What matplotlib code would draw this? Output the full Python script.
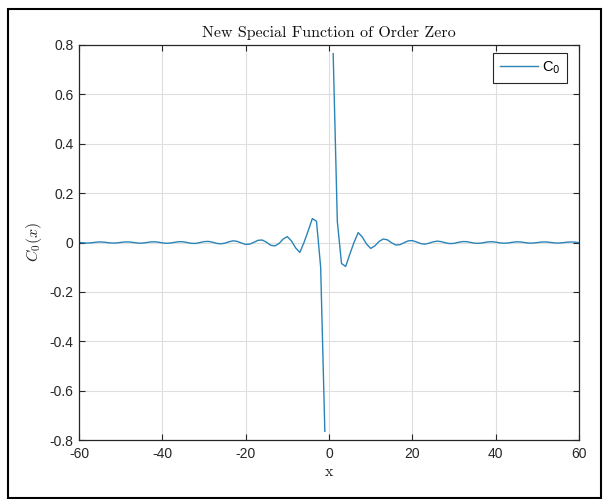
import matplotlib
matplotlib.use("Agg")
import matplotlib.pyplot as plt
from matplotlib.patches import Rectangle

# C0 sampled on integer x from -60 to 60 (undefined at x = 0)
x = list(range(-60, 61))
c0_pos = [
    float("nan"), 0.765, 0.085, -0.085, -0.097, -0.047, 0.0, 0.040, 0.022, -0.006,
    -0.024, -0.014, 0.004, 0.014, 0.011, -0.001, -0.010, -0.009, -0.001, 0.0066,
    0.0077, 0.0022, -0.0044, -0.0068, -0.0029, 0.0027, 0.0055, 0.0033, -0.0015, -0.0045,
    -0.0035, 0.0004, 0.0036, 0.0035, 0.0004, -0.0029, -0.0034, -0.0010, 0.0021, 0.0033,
    0.0015, -0.0015, -0.0030, -0.0019, 0.0008, 0.0028, 0.0022, -0.0003, -0.0024, -0.0023,
    -0.0003, 0.0019, 0.0024, 0.0007, -0.0015, -0.0024, -0.0011, 0.0011, 0.0022, 0.0014,
    -0.0006,
]
c0_neg = [
    0.0006, -0.0014, -0.0022, -0.0011, 0.0011, 0.0024, 0.0015, -0.0007, -0.0024, -0.0019,
    0.0003, 0.0023, 0.0024, 0.0003, -0.0022, -0.0028, -0.0008, 0.0019, 0.0030, 0.0015,
    -0.0015, -0.0033, -0.0021, 0.0010, 0.0034, 0.0029, -0.0004, -0.0035, -0.0036, -0.0004,
    0.0035, 0.0045, 0.0015, -0.0033, -0.0055, -0.0027, 0.0029, 0.0068, 0.0044, -0.0022,
    -0.0077, -0.0066, 0.001, 0.009, 0.010, 0.001, -0.011, -0.014, -0.004, 0.014,
    0.024, 0.006, -0.022, -0.040, 0.0, 0.047, 0.097, 0.086, -0.100, -0.765,
]
c0 = c0_neg + c0_pos

xticks = [-60, -40, -20, 0, 20, 40, 60]
yticks = [-0.8, -0.6, -0.4, -0.2, 0, 0.2, 0.4, 0.6, 0.8]
ytick_labels = ["-0.8", "-0.6", "-0.4", "-0.2", "0", "0.2", "0.4", "0.6", "0.8"]

plt.rcParams["axes.unicode_minus"] = False
plt.rcParams["font.family"] = ["Liberation Sans", "DejaVu Sans"]

fig = plt.figure(figsize=(6.03, 4.99), dpi=100)
ax = fig.add_axes([79 / 603, 59 / 499, 500 / 603, 395 / 499])

ax.plot(x, c0, color="#2a84b8", linewidth=1.0, label=r"C$_0$")

ax.set_xlim(-60, 60)
ax.set_ylim(-0.8, 0.8)
ax.set_xticks(xticks)
ax.set_yticks(yticks)
ax.set_yticklabels(ytick_labels)
ax.tick_params(direction="in", top=True, right=True, length=4, width=0.8,
               colors="#262626", labelsize=10)
ax.tick_params(axis="x", pad=5)
ax.tick_params(axis="y", pad=4)
ax.grid(True, color="#dedede", linewidth=0.8)
ax.set_axisbelow(True)
for s in ax.spines.values():
    s.set_color("#262626")
    s.set_linewidth(0.9)

ax.set_title("New Special Function of Order Zero", fontfamily="cmr10",
             fontsize=11.5, color="#111111", pad=6)
ax.set_xlabel("x", fontfamily="cmr10", fontsize=11.5, color="#262626", labelpad=3)
ax.set_ylabel(r"$C_0(x)$", fontsize=11.5, math_fontfamily="cm", color="#262626",
              labelpad=4)

leg = ax.legend(loc="upper right", fancybox=False, framealpha=1, fontsize=10.5,
                handlelength=2.6, handletextpad=0.3, borderpad=0.45,
                borderaxespad=0, bbox_to_anchor=(0.976, 0.98))
leg.get_frame().set_edgecolor("#262626")
leg.get_frame().set_linewidth(0.8)

# outer frame around the whole figure
fig.patches.append(Rectangle((8 / 603, 1 / 499), 593 / 603, 489 / 499,
                             transform=fig.transFigure, fill=False,
                             edgecolor="black", linewidth=1.5))

fig.savefig("out.png", dpi=100)
